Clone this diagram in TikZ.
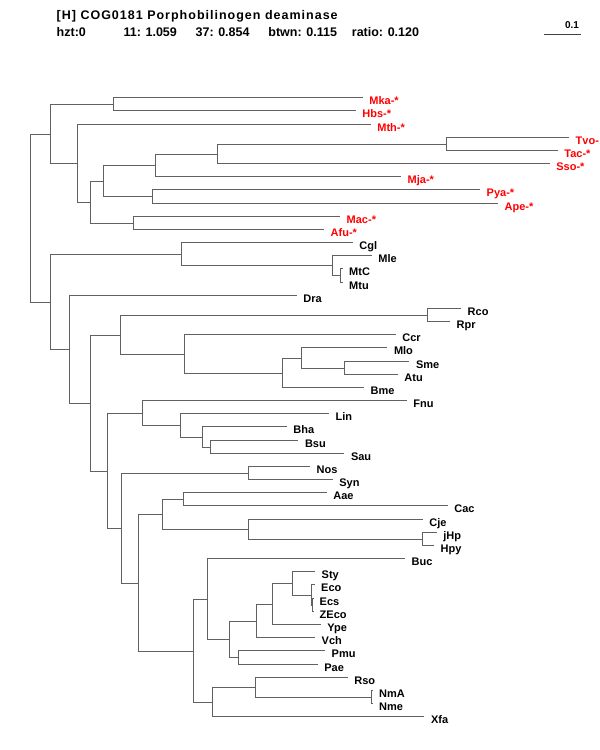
\documentclass[tikz,border=0pt]{standalone}
\usepackage{fontspec}
\setmainfont{Liberation Sans}
\newfontfamily\hdrfont{Liberation Sans}[LetterSpace=8]
\begin{document}
\begin{tikzpicture}[x=1pt,y=-1pt,
  edge/.style={draw=black!62, line width=1.7pt},
  lab/.style={anchor=base west, inner sep=0pt, xshift=6.5pt, yshift=-6.5pt,
    font=\fontsize{11}{13}\selectfont\bfseries},
  arch/.style={lab, text=red},
  hdr/.style={anchor=base west, inner sep=0pt, font=\hdrfont\fontsize{12.5}{14}\selectfont\bfseries},
  hdrb/.style={anchor=base west, inner sep=0pt, font=\fontsize{12.5}{14}\selectfont\bfseries}]
\useasboundingbox (0,0) rectangle (600,750);
\fill[white] (0,0) rectangle (600,750);
% header
\node[hdr] (title) at (56.5,19) {[H] COG0181 Porphobilinogen deaminase};
\node[hdrb] (h1) at (56.5,36.5) {hzt:0};
\node[hdrb] (h2) at (123.4,36.5) {11: 1.059};
\node[hdrb] (h3) at (195.4,36.5) {37: 0.854};
\node[hdrb] (h4) at (268.2,36.5) {btwn: 0.115};
\node[hdrb] (h5) at (351.7,36.5) {ratio: 0.120};
\coordinate (sbL) at (544,34.5);
\coordinate (sbR) at (581,34.5);
\draw[edge, draw=black!75, line width=1pt] (sbL) -- (sbR);
\node[anchor=base, inner sep=0pt, font=\fontsize{10}{12}\selectfont\bfseries] (sbt) at (572,28) {0.1};
% leaves
\foreach \n/\x/\y in {Mka/362.7/97.5, Hbs/355.7/110.5, Mth/370.7/124.5, Tvo/569/137.5,
  Tac/557.7/150.5, Sso/549.7/163.5, Mja/401/176.5, Pya/480/189.5, Ape/498/203.5,
  Mac/340/216.5, Afu/324/229.5, Cgl/352.7/242.5, Mle/371.7/255.5, MtC/342.5/268.5,
  Mtu/342.5/282.5, Dra/296.7/295.5, Rco/461/308.5, Rpr/450/321.5, Ccr/395.7/334.5,
  Mlo/387.3/347.5, Sme/409.3/361.5, Atu/397.7/374.5, Bme/364/387.5, Fnu/406.7/400.5,
  Lin/329/413.5, Bha/286.7/426.5, Bsu/298.3/440.5, Sau/344.3/453.5, Nos/310/466.5,
  Syn/332.7/479.5, Aae/326.7/492.5, Cac/447.7/505.5, Cje/422.7/519.5, jHp/436.7/532.5,
  Hpy/434/545.5, Buc/405/558.5, Sty/315/571.5, Eco/314.5/584.5, Ecs/313/598.5,
  ZEco/313/611.5, Ype/320.7/624.5, Vch/315/637.5, Pmu/325/650.5, Pae/317.7/664.5,
  Rso/347.7/677.5, NmA/372.5/690.5, Nme/372.5/703.5, Xfa/424.3/716.5}
  {\coordinate (\n) at (\x,\y);}
% internal nodes
\foreach \n/\x/\y in {nMH/113.5/104.5, nF/446.5/144.5, nF2/217.5/154.5, nE/155.5/165.5,
  nG/152.5/196.5, nD/103.5/181.5, nH/133.5/223.5, nC/90.5/202.5, nB/77.5/163.5,
  nA/50.5/134.5, nL/340.5/275.5, nK/332.5/265.5, nJ/181.5/254.5, nP/427.5/315.5,
  nT/344.5/368.5, nS/301.5/358.5, nR/282.5/373.5, nQ/184.5/354.5, nO/120.5/335.5,
  nY/210.5/447.5, nX/202.5/437.5, nW/180.5/425.5, nV/142.5/413.5, nNS/248.5/473.5,
  nAC/183.5/499.5, nHP/422.5/539.5, nAD/248.5/529.5, nAB/162.5/514.5, nEZ/312.5/605.5,
  nEC/311.5/595.5, nAJ/292.5/583.5, nAI/272.5/604.5, nAH/256.5/621.5, nAK/238.5/657.5,
  nAG/229.5/639.5, nAF/207.5/599.5, nNN/371.5/697.5, nAM/255.5/687.5, nAL/212.5/702.5,
  nAE/193.5/651.5, nAA/138.5/583.5, nZ/121.5/528.5, nU/107.5/471.5, nN/90.5/403.5,
  nM/69.5/349.5, nI/50.5/302.5, root/30.5/218.5}
  {\coordinate (\n) at (\x,\y);}
% edges
\foreach \p/\c in {root/nA, root/nI,
  nA/nMH, nA/nB, nMH/Mka, nMH/Hbs, nB/Mth, nB/nC, nC/nD, nC/nH, nD/nE, nD/nG,
  nE/nF2, nE/Mja, nF2/nF, nF2/Sso, nF/Tvo, nF/Tac, nG/Pya, nG/Ape, nH/Mac, nH/Afu,
  nI/nJ, nI/nM, nJ/Cgl, nJ/nK, nK/Mle, nK/nL, nL/MtC, nL/Mtu,
  nM/Dra, nM/nN, nN/nO, nN/nU, nO/nP, nO/nQ, nP/Rco, nP/Rpr, nQ/Ccr, nQ/nR,
  nR/nS, nR/Bme, nS/Mlo, nS/nT, nT/Sme, nT/Atu,
  nU/nV, nU/nZ, nV/Fnu, nV/nW, nW/Lin, nW/nX, nX/Bha, nX/nY, nY/Bsu, nY/Sau,
  nZ/nNS, nZ/nAA, nNS/Nos, nNS/Syn, nAA/nAB, nAA/nAE, nAB/nAC, nAB/nAD,
  nAC/Aae, nAC/Cac, nAD/Cje, nAD/nHP, nHP/jHp, nHP/Hpy,
  nAE/nAF, nAE/nAL, nAF/Buc, nAF/nAG, nAG/nAH, nAG/nAK, nAH/nAI, nAH/Vch,
  nAI/nAJ, nAI/Ype, nAJ/Sty, nAJ/nEC, nEC/Eco, nEC/nEZ, nEZ/Ecs, nEZ/ZEco,
  nAK/Pmu, nAK/Pae, nAL/nAM, nAL/Xfa, nAM/Rso, nAM/nNN, nNN/NmA, nNN/Nme}
  {\draw[edge] (\p) |- (\c);}
% labels
\foreach \n/\t in {Mka/Mka-*, Hbs/Hbs-*, Mth/Mth-*, Tvo/Tvo-, Tac/Tac-*, Sso/Sso-*,
  Mja/Mja-*, Pya/Pya-*, Ape/Ape-*, Mac/Mac-*, Afu/Afu-*}
  {\node[arch] (t\n) at (\n) {\t};}
\foreach \n in {Cgl, Mle, MtC, Mtu, Dra, Rco, Rpr, Ccr, Mlo, Sme, Atu, Bme, Fnu, Lin,
  Bha, Bsu, Sau, Nos, Syn, Aae, Cac, Cje, jHp, Hpy, Buc, Sty, Eco, Ecs, ZEco, Ype, Vch,
  Pmu, Pae, Rso, NmA, Nme, Xfa}
  {\node[lab] (t\n) at (\n) {\n};}
\end{tikzpicture}
\end{document}
